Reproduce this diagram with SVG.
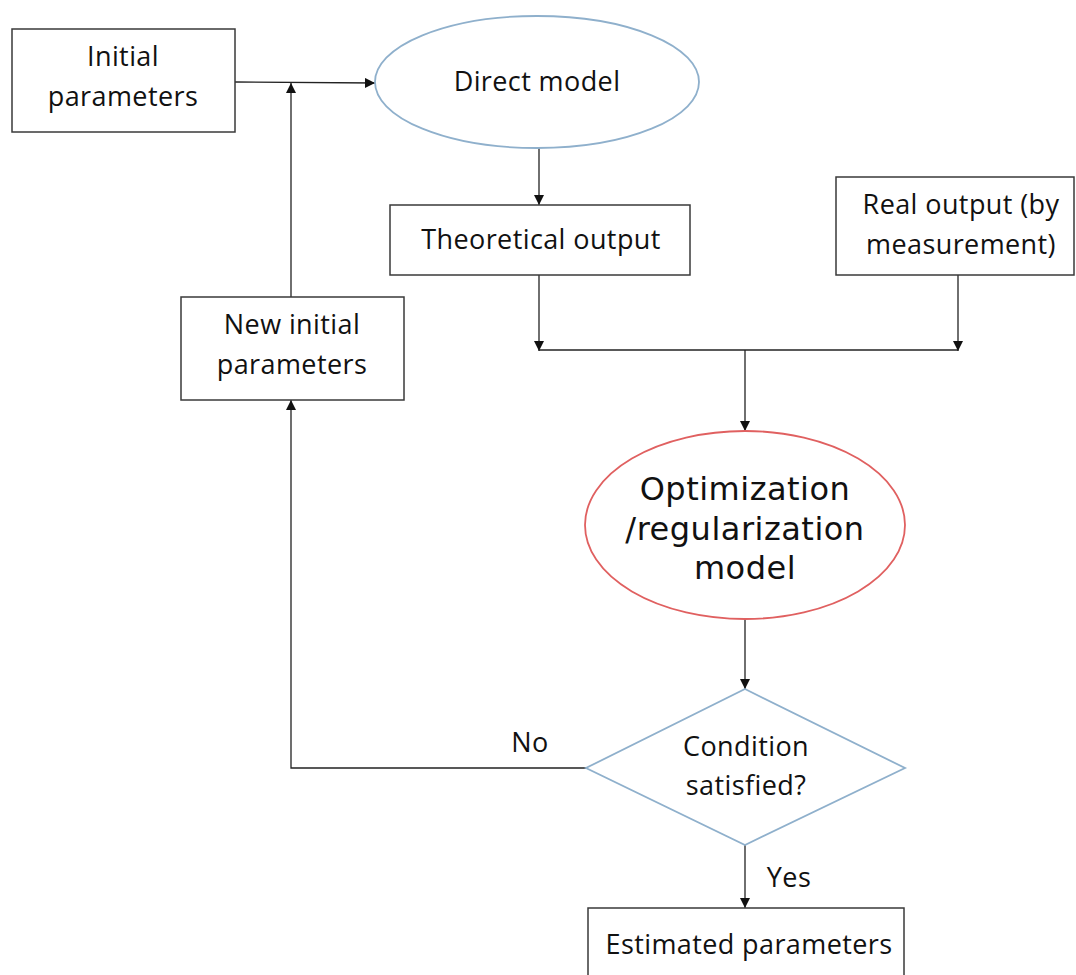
<svg xmlns="http://www.w3.org/2000/svg" width="1076" height="975" viewBox="0 0 1076 975">
<style>
.box{fill:#fff;stroke:#3a3a3a;stroke-width:1.5}
.t{font-family:"Open Sans","Liberation Sans",sans-serif;font-size:27px;letter-spacing:0.4px;fill:#111;text-anchor:middle}
.big{font-family:"DejaVu Sans","Open Sans",sans-serif;font-size:32px;letter-spacing:0.5px;fill:#111;text-anchor:middle}
.c{fill:none;stroke:#222;stroke-width:1.3}
</style>
<defs>
<marker id="ah" viewBox="0 0 10 10" refX="10" refY="5" markerWidth="10" markerHeight="10" markerUnits="userSpaceOnUse" orient="auto">
<path d="M0,0 L10,5 L0,10 Z" fill="#111"/>
</marker>
</defs>
<rect width="1076" height="975" fill="#fff"/>
<g id="connectors">
<path class="c" d="M235,82 L375,83" marker-end="url(#ah)"/>
<path class="c" d="M291,297 L291,83" marker-end="url(#ah)"/>
<path class="c" d="M539,148 L539,205" marker-end="url(#ah)"/>
<path class="c" d="M539,275 L539,351" marker-end="url(#ah)"/>
<path class="c" d="M958,275 L958,351" marker-end="url(#ah)"/>
<path class="c" d="M539,350 L958,350"/>
<path class="c" d="M745,350 L745,431" marker-end="url(#ah)"/>
<path class="c" d="M745,618 L745,689" marker-end="url(#ah)"/>
<path class="c" d="M745,845 L745,908" marker-end="url(#ah)"/>
<path class="c" d="M586,768 L291,768 L291,400" marker-end="url(#ah)"/>
<text class="t" x="530" y="752">No</text>
<text class="t" x="789" y="887">Yes</text>
</g>
<g id="initial">
<rect class="box" x="12" y="29" width="223" height="103"/>
<text class="t" x="123" y="66">Initial</text>
<text class="t" x="123" y="106">parameters</text>
</g>
<g id="direct">
<ellipse cx="537" cy="82" rx="162" ry="66" fill="#fff" stroke="#8fb0cc" stroke-width="1.8"/>
<text class="t" x="537" y="91">Direct model</text>
</g>
<g id="theoretical">
<rect class="box" x="390" y="205" width="300" height="70"/>
<text class="t" x="541" y="249">Theoretical output</text>
</g>
<g id="real">
<rect class="box" x="836" y="177" width="238" height="98"/>
<text class="t" x="961" y="214">Real output (by</text>
<text class="t" x="961" y="254">measurement)</text>
</g>
<g id="newinit">
<rect class="box" x="181" y="297" width="223" height="103"/>
<text class="t" x="292" y="334">New initial</text>
<text class="t" x="292" y="374">parameters</text>
</g>
<g id="optim">
<ellipse cx="745" cy="525" rx="160" ry="94" fill="#fff" stroke="#e06060" stroke-width="1.8"/>
<text class="big" x="745" y="500">Optimization</text>
<text class="big" x="745" y="540">/regularization</text>
<text class="big" x="745" y="579">model</text>
</g>
<g id="condition">
<polygon points="745,689 905,768 745,845 586,768" fill="#fff" stroke="#8fb0cc" stroke-width="1.8"/>
<text class="t" x="746" y="756">Condition</text>
<text class="t" x="746" y="795">satisfied?</text>
</g>
<g id="estimated">
<rect class="box" x="588" y="908" width="316" height="80"/>
<text class="t" x="749" y="954">Estimated parameters</text>
</g>
</svg>
